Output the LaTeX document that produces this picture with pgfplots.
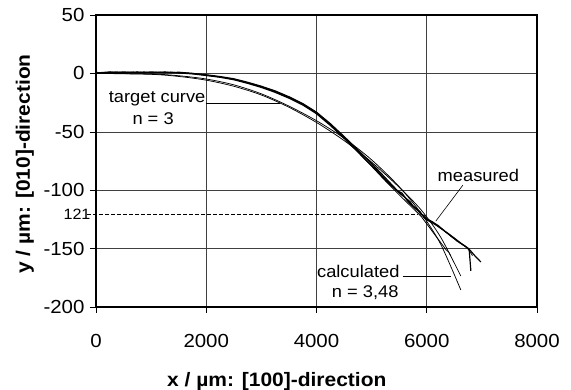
\documentclass[border=0pt]{standalone}
\usepackage{fontspec}
\setmainfont{Liberation Sans}[FakeStretch=1.08]
\usepackage{pgfplots}
\pgfplotsset{compat=1.18}
\begin{document}
\begin{tikzpicture}
\useasboundingbox (-96bp,-83bp) rectangle (475bp,307bp);
\begin{axis}[
  at={(0,0)}, anchor=south west,
  scale only axis, width=441bp, height=292bp,
  xmin=0, xmax=8000, ymin=-200, ymax=50,
  xtick={0,2000,4000,6000,8000},
  xticklabels={0,2000,4000,6000,8000},
  ytick={-200,-150,-100,-50,0,50},
  yticklabels={-200,-150,-100,-50,0,50},
  extra y ticks={-121}, extra y tick labels={121},
  extra y tick style={grid=none, major tick length=0pt,
     yticklabel style={font=\fontsize{15}{18}\selectfont}},
  /pgf/number format/assume math mode=true,
  xtick pos=bottom, ytick pos=left,
  tick align=outside, major tick length=6bp,
  tick style={black, line width=0.6pt},
  grid=major, major grid style={black!75, line width=0.6pt},
  axis line style={line width=1.1pt},
  ticklabel style={font=\fontsize{19}{22}\selectfont},
  xticklabel style={yshift=-18bp},
  yticklabel style={xshift=-2bp},
  xlabel={\textbf{x / µm: [100]-direction}},
  ylabel={\textbf{y / µm: [010]-direction}},
  xlabel style={at={(axis description cs:0.41,-0.272)}, anchor=base, font=\fontsize{19.5}{22}\selectfont},
  ylabel style={at={(axis description cs:-0.1497,0.49)}, anchor=base, font=\fontsize{19.5}{22}\selectfont},
  clip=false,
  cycle list={{black, mark=none}},
  no markers,
]
% reference level
\addplot[black, mark=none, dash pattern=on 4.5bp off 1.5bp, line width=1.3pt] coordinates {(-164,-121) (5830,-121)};
% measured
\addplot[black, mark=none, line width=1.2pt] coordinates {(0,0.3) (125,0.8) (250,1.2) (375,0.6) (500,1.3) (625,0.7) (750,1.2) (875,0.5) (1000,1.3) (1125,0.7) (1250,1.2) (1375,0.6) (1500,1.0) (1750,0.0) (2000,-1.2) (2250,-2.7) (2500,-4.6) (2750,-7.6) (3000,-11) (3250,-15) (3500,-20) (3750,-25.8) (4000,-33.2) (4250,-43) (4500,-54) (4750,-65.5) (5000,-77) (5250,-89.5) (5500,-102) (5650,-108) (5700,-110) (5750,-113.5) (5850,-118) (5900,-121) (5950,-121.5) (6000,-124.5) (6100,-127) (6250,-132.5) (6400,-137.5) (6550,-143.5) (6700,-148) (6770,-151) (6800,-169)};
\addplot[black, mark=none, line width=1.2pt] coordinates {(0,0.8) (125,0.4) (250,0.9) (375,1.2) (500,0.6) (625,1.1) (750,0.7) (875,1.2) (1000,0.5) (1125,1.1) (1250,0.6) (1375,1.0) (1500,0.4) (1750,-0.4) (2000,-1.8) (2250,-3.3) (2500,-5.4) (2750,-8.5) (3000,-12) (3250,-16.2) (3500,-21.2) (3750,-27) (4000,-34.5) (4250,-44.5) (4500,-55.5) (4750,-67) (5000,-79) (5250,-91.5) (5450,-100) (5550,-102.5) (5650,-109) (5800,-116) (5880,-118.5) (5950,-123.5) (6050,-126) (6200,-130) (6350,-136) (6500,-141) (6650,-146.5) (6760,-150) (6870,-156) (6982,-161.5)};
\addplot[black, mark=none, line width=0.8pt] coordinates {(0,0.5) (250,0.7) (500,1.0) (750,0.8) (1000,0.9) (1250,0.8) (1500,0.5) (1750,-0.2) (2000,-1.6) (2250,-3.1) (2500,-5.1) (2750,-8.1) (3000,-11.6) (3250,-15.6) (3500,-20.6) (3750,-26.4) (4000,-34) (4250,-44) (4500,-55.5) (4750,-67.5) (5000,-79.5) (5250,-92) (5500,-104) (5750,-115.5) (5900,-122.5) (6050,-132) (6200,-141.5) (6350,-151) (6400,-153) (6436,-156.4)};
\addplot[black, mark=none, line width=0.8pt] coordinates {(0,0.2) (250,1.0) (500,0.6) (750,1.1) (1000,0.6) (1250,1.1) (1500,0.6) (1750,0.1) (2000,-1.4) (2250,-2.9) (2500,-4.9) (2750,-7.9) (3000,-11.3) (3250,-15.3) (3500,-20.3) (3750,-26.2) (4000,-33.7) (4250,-43.5) (4500,-54.5) (4750,-66) (5000,-77.5) (5250,-91) (5500,-102.5) (5600,-106) (5700,-112) (5800,-115) (5900,-120) (6000,-125.5) (6150,-129.5) (6300,-134) (6450,-140) (6600,-145) (6740,-149.5) (6780,-152.5) (6830,-156)};
% target curve n = 3
\addplot[black, mark=none, line width=0.75pt, smooth] coordinates {(0,0) (1000,-0.8) (1500,-2.6) (2000,-5.8) (2500,-11) (3000,-18.5) (3500,-29) (4000,-42) (4500,-57.5) (5000,-76) (5500,-97.5) (5900,-117) (6250,-140) (6618,-173.5)};
% calculated n = 3.48
\addplot[black, mark=none, line width=0.75pt, smooth] coordinates {(0,0) (1000,-0.5) (1500,-2.0) (2000,-4.8) (2500,-9.8) (3000,-17.5) (3500,-28) (4000,-40.5) (4500,-55.5) (5000,-74) (5500,-97) (5900,-120) (6250,-146) (6618,-185.4)};
% leaders
\addplot[black, mark=none, line width=0.6pt] coordinates {(1990,-25.6) (3330,-25.6)};
\addplot[black, mark=none, line width=0.6pt] coordinates {(6655,-95.7) (6164,-126.5)};
\addplot[black, mark=none, line width=0.6pt] coordinates {(5564,-173.5) (6436,-173.5)};
% annotations
\node[anchor=base, font=\fontsize{17}{20}\selectfont, inner sep=0pt] at (axis cs:1109,-24.8) {target curve};
\node[anchor=base, font=\fontsize{17}{20}\selectfont, inner sep=0pt] at (axis cs:1036,-43.6) {n = 3};
\node[anchor=base, font=\fontsize{17}{20}\selectfont, inner sep=0pt] at (axis cs:6936,-92.3) {measured};
\node[anchor=base east, font=\fontsize{17}{20}\selectfont, inner sep=0pt] at (axis cs:5509,-174.4) {calculated};
\node[anchor=base east, font=\fontsize{17}{20}\selectfont, inner sep=0pt] at (axis cs:5491,-191.5) {n = 3,48};
\end{axis}
\end{tikzpicture}
\end{document}
